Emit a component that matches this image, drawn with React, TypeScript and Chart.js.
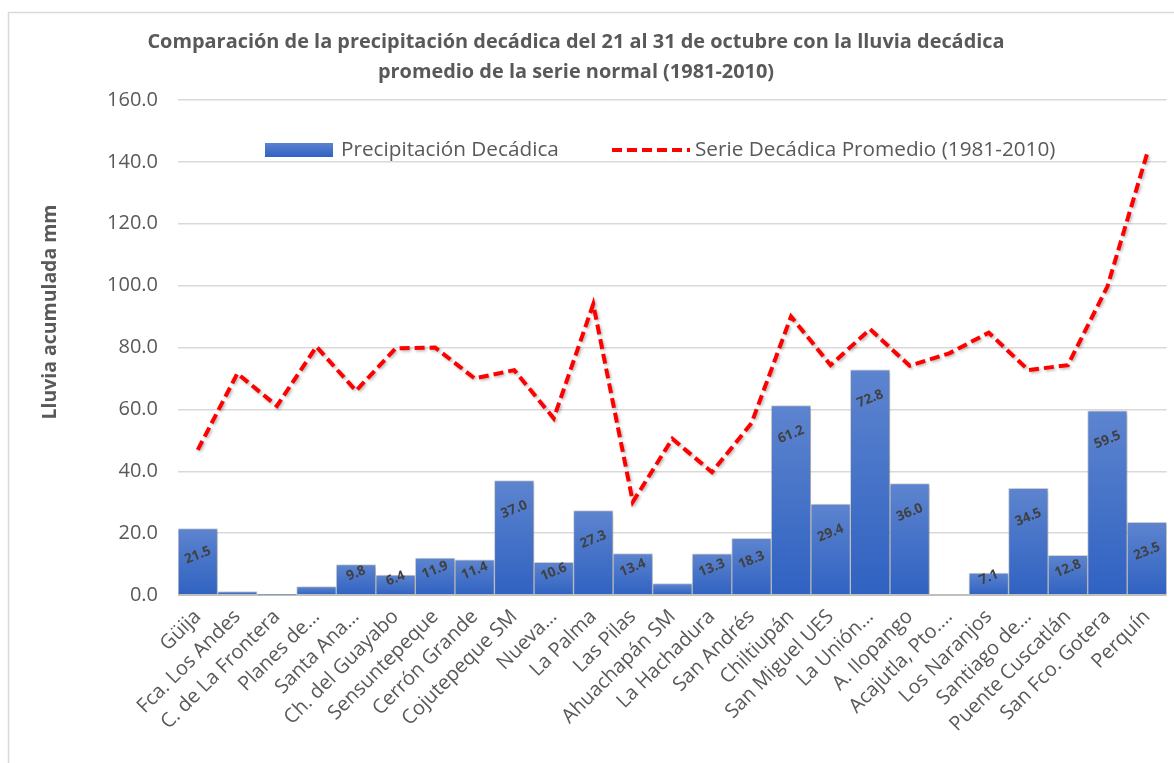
import React, { useEffect, useRef } from "react";
import { Chart, registerables } from "chart.js";

Chart.register(...registerables);

const categories = [
  "Güija", "Fca. Los Andes", "C. de La Frontera", "Planes de…", "Santa Ana…",
  "Ch. del Guayabo", "Sensuntepeque", "Cerrón Grande", "Cojutepeque SM", "Nueva…",
  "La Palma", "Las Pilas", "Ahuachapán SM", "La Hachadura", "San Andrés",
  "Chiltiupán", "San Miguel UES", "La Unión…", "A. Ilopango", "Acajutla, Pto.…",
  "Los Naranjos", "Santiago de…", "Puente Cuscatlán", "San Fco. Gotera", "Perquín",
];

const precipitacion = [
  21.5, 1.1, 0.2, 2.7, 9.8, 6.4, 11.9, 11.4, 37.0, 10.6, 27.3, 13.4, 3.7, 13.3, 18.3,
  61.2, 29.4, 72.8, 36.0, 0, 7.1, 34.5, 12.8, 59.5, 23.5,
];

const promedio = [
  46.9, 71.6, 61.1, 80.3, 66.0, 79.7, 80.0, 70.0, 72.7, 57.1, 94.0, 30.1, 50.5, 39.7, 55.5,
  90.0, 74.3, 85.9, 74.1, 78.1, 84.8, 72.7, 74.3, 99.7, 142.5,
];

const titleLines = [
  "Comparación de la precipitación decádica del 21 al 31 de octubre con la lluvia decádica",
  "promedio de la serie normal (1981-2010)",
];
const legendLabels = ["Precipitación Decádica", "Serie Decádica Promedio (1981-2010)"];
const yTitle = "Lluvia acumulada mm";

const FAMILY = "'Open Sans', sans-serif";
const GRAY = "#595959";

function fitSize(ctx: CanvasRenderingContext2D, text: string, weight: string, target: number) {
  ctx.font = `${weight} 100px ${FAMILY}`;
  const w = ctx.measureText(text).width;
  return (100 * target) / w;
}

const decorPlugin = {
  id: "decor",
  beforeDraw(chart: any) {
    const ctx = chart.ctx;
    ctx.save();
    ctx.fillStyle = "#ffffff";
    ctx.fillRect(0, 0, chart.width, chart.height);
    ctx.strokeStyle = "#d9d9d9";
    ctx.lineWidth = 1.5;
    ctx.strokeRect(8.5, 12.5, chart.width + 20, chart.height + 20);
    ctx.restore();
  },
  beforeDatasetDraw(chart: any, args: any) {
    const ctx = chart.ctx;
    ctx.save();
    if (args.index === 1) {
      ctx.shadowColor = "rgba(0,0,0,0.28)";
      ctx.shadowBlur = 3;
      ctx.shadowOffsetX = 1.5;
      ctx.shadowOffsetY = 1.5;
    } else {
      ctx.shadowColor = "rgba(0,0,0,0.25)";
      ctx.shadowBlur = 4;
      ctx.shadowOffsetX = 1.5;
      ctx.shadowOffsetY = 1.5;
    }
  },
  afterDatasetDraw(chart: any) {
    chart.ctx.restore();
  },
  afterDatasetsDraw(chart: any) {
    const ctx = chart.ctx;
    const meta = chart.getDatasetMeta(0);
    ctx.save();
    ctx.fillStyle = "#404040";
    ctx.font = `bold 13.5px ${FAMILY}`;
    ctx.textAlign = "center";
    ctx.textBaseline = "middle";
    meta.data.forEach((el: any, i: number) => {
      const v = precipitacion[i];
      if (v < 5) return;
      const h = el.base - el.y;
      const off = Math.min(29, Math.max(3, h / 2 - 6));
      ctx.save();
      ctx.translate(el.x, el.y + off);
      ctx.rotate((-22 * Math.PI) / 180);
      ctx.fillText(v.toFixed(1), 0, 0);
      ctx.restore();
    });
    ctx.restore();
  },
  afterDraw(chart: any) {
    const ctx = chart.ctx;
    ctx.save();
    ctx.fillStyle = GRAY;
    ctx.textAlign = "center";
    ctx.textBaseline = "alphabetic";
    const ts = fitSize(ctx, titleLines[0], "bold", 858);
    ctx.font = `bold ${ts}px ${FAMILY}`;
    ctx.fillText(titleLines[0], 576, 48);
    ctx.fillText(titleLines[1], 576, 78);

    const lg = ctx.createLinearGradient(0, 143, 0, 157);
    lg.addColorStop(0, "#5b82cf");
    lg.addColorStop(1, "#2f62c2");
    ctx.fillStyle = lg;
    ctx.fillRect(265, 143, 68, 14);
    const ls = fitSize(ctx, legendLabels[0], "normal", 218);
    ctx.font = `normal ${ls}px ${FAMILY}`;
    ctx.fillStyle = GRAY;
    ctx.textAlign = "left";
    ctx.textBaseline = "middle";
    ctx.fillText(legendLabels[0], 341, 150);
    ctx.strokeStyle = "#ff0000";
    ctx.lineWidth = 4;
    ctx.setLineDash([10, 5]);
    ctx.beginPath();
    ctx.moveTo(612, 150);
    ctx.lineTo(690, 150);
    ctx.stroke();
    ctx.setLineDash([]);
    ctx.fillText(legendLabels[1], 695, 150);

    const ys = fitSize(ctx, yTitle, "bold", 215);
    ctx.font = `bold ${ys}px ${FAMILY}`;
    ctx.translate(50, 312);
    ctx.rotate(-Math.PI / 2);
    ctx.textAlign = "center";
    ctx.textBaseline = "middle";
    ctx.fillStyle = GRAY;
    ctx.fillText(yTitle, 0, 0);
    ctx.restore();
  },
};

export default function App() {
  const ref = useRef<HTMLCanvasElement | null>(null);

  useEffect(() => {
    if (!ref.current) return;
    const barColor = (c: any) => {
      const ch = c.chart;
      const y = ch.scales && ch.scales.y;
      if (!y || c.type !== "data") return "#4472c4";
      const top = y.getPixelForValue(c.raw);
      const bot = y.getPixelForValue(0);
      if (!isFinite(top) || !isFinite(bot) || Math.abs(bot - top) < 1) return "#4472c4";
      const g = ch.ctx.createLinearGradient(0, top, 0, bot);
      g.addColorStop(0, "#5d84cf");
      g.addColorStop(0.5, "#4673c8");
      g.addColorStop(1, "#3062c2");
      return g;
    };

    const chart = new Chart(ref.current, {
      type: "bar",
      data: {
        labels: categories,
        datasets: [
          {
            type: "bar",
            label: legendLabels[0],
            data: precipitacion,
            backgroundColor: barColor,
            borderColor: "rgba(185,185,185,0.5)",
            borderWidth: 1,
            borderSkipped: "bottom",
            barPercentage: 1,
            categoryPercentage: 1,
            order: 1,
          },
          {
            type: "line",
            label: legendLabels[1],
            data: promedio,
            borderColor: "#ff0000",
            borderWidth: 4,
            borderDash: [10, 5],
            pointRadius: 0,
            tension: 0,
            fill: false,
            order: 0,
          },
        ],
      } as any,
      options: {
        animation: false,
        responsive: false,
        maintainAspectRatio: false,
        layout: { padding: { top: 100, right: 4, left: 0, bottom: 0 } },
        plugins: {
          legend: { display: false },
          title: { display: false },
          tooltip: { enabled: false },
        },
        scales: {
          x: {
            grid: { display: false, drawTicks: false },
            border: { display: false },
            ticks: {
              autoSkip: false,
              maxRotation: 45,
              minRotation: 45,
              padding: 10,
              color: GRAY,
              font: { family: FAMILY, size: 20 },
            },
            afterFit: (s: any) => {
              s.height = 168;
            },
          },
          y: {
            min: 0,
            max: 160,
            ticks: {
              stepSize: 20,
              padding: 20,
              color: GRAY,
              font: { family: FAMILY, size: 20 },
              callback: (v: any) => Number(v).toFixed(1),
            },
            grid: {
              drawTicks: false,
              color: (c: any) => (c.tick && c.tick.value === 0 ? "#bfbfbf" : "#d9d9d9"),
              lineWidth: (c: any) => (c.tick && c.tick.value === 0 ? 2 : 1.5),
            },
            border: { display: false },
            afterFit: (s: any) => {
              s.width = 178;
            },
          },
        },
      } as any,
      plugins: [decorPlugin],
    });
    return () => chart.destroy();
  }, []);

  return (
    <div style={{ position: "absolute", left: 0, top: 0, width: 1174, height: 763 }}>
      <canvas ref={ref} width={1174} height={763} style={{ width: 1174, height: 763 }} />
    </div>
  );
}
